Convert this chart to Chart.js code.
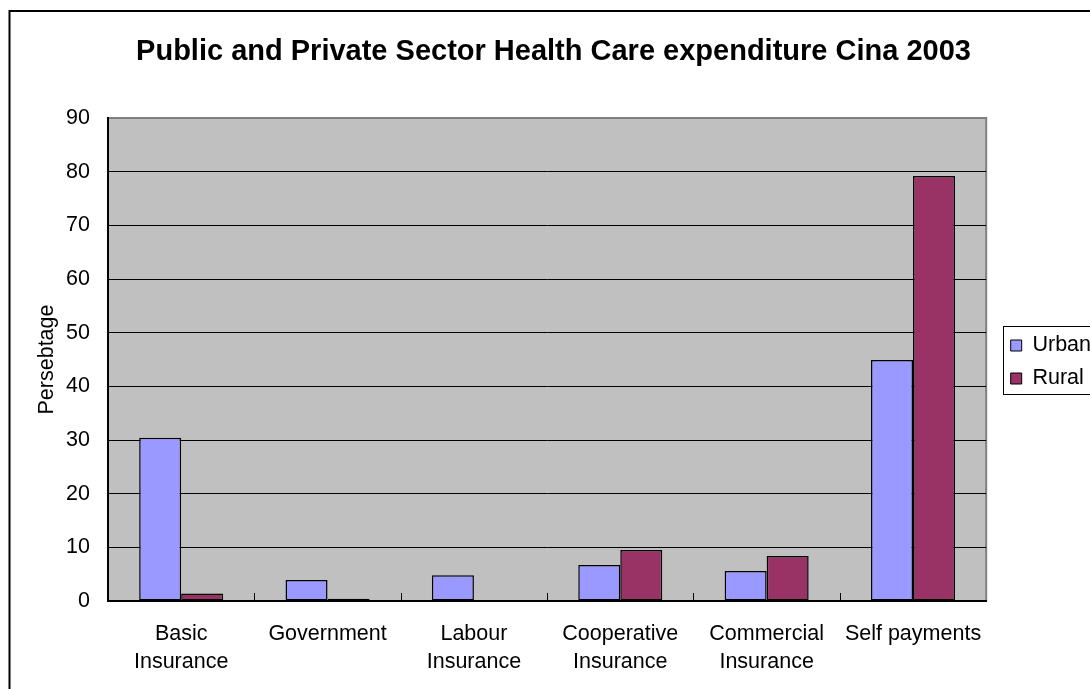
<!DOCTYPE html>
<html>
<head>
<meta charset="utf-8">
<title>Health Care expenditure</title>
<script src="https://cdn.jsdelivr.net/npm/chart.js@4.4.0/dist/chart.umd.min.js"></script>
<style>
  html, body { margin: 0; padding: 0; background: #fff; overflow: hidden; }
  #wrap { position: relative; width: 1090px; height: 689px; overflow: hidden; }
  #healthChart { position: absolute; left: 0; top: 0; }
</style>
</head>
<body>
<div id="wrap"><canvas id="healthChart" width="1110" height="700"></canvas></div>
<script>
const categories = [
    ['Basic', 'Insurance'],
    'Government',
    ['Labour', 'Insurance'],
    ['Cooperative', 'Insurance'],
    ['Commercial', 'Insurance'],
    'Self payments'
];
const urbanValues = [30.4, 3.9, 4.8, 6.7, 5.6, 44.9];
const ruralValues = [1.4, 0.4, 0, 9.5, 8.4, 79.2];
const yTicks = [0, 10, 20, 30, 40, 50, 60, 70, 80, 90];

const FONT = "'Liberation Sans', Arial, sans-serif";
Chart.defaults.font.family = FONT;
Chart.defaults.color = '#000';

// white page, outer frame and grey plot background
const frame = {
    id: 'frame',
    beforeDraw(chart) {
        const ctx = chart.ctx;
        const a = chart.chartArea;
        ctx.save();
        ctx.fillStyle = '#fff';
        ctx.fillRect(0, 0, chart.width, chart.height);
        ctx.strokeStyle = '#000';
        ctx.lineWidth = 2;
        ctx.strokeRect(9.5, 11, 1200, 800);
        ctx.fillStyle = '#c0c0c0';
        ctx.fillRect(a.left, a.top, a.right - a.left, a.bottom - a.top);
        ctx.strokeStyle = '#808080';
        ctx.lineWidth = 2;
        ctx.beginPath();
        ctx.moveTo(a.left, a.top);
        ctx.lineTo(a.right, a.top);
        ctx.lineTo(a.right, a.bottom);
        ctx.stroke();
        ctx.restore();
    },
    afterDatasetsDraw(chart) {
        // short tick marks between categories, pointing into the plot
        const ctx = chart.ctx;
        const x = chart.scales.x;
        const bottom = chart.chartArea.bottom;
        ctx.save();
        ctx.strokeStyle = '#000';
        ctx.lineWidth = 1;
        ctx.beginPath();
        for (let i = 1; i < categories.length; i++) {
            const px = Math.round((x.getPixelForValue(i - 1) + x.getPixelForValue(i)) / 2) + 0.5;
            ctx.moveTo(px, bottom);
            ctx.lineTo(px, bottom - 8);
        }
        ctx.stroke();
        ctx.restore();
    }
};

// move the legend off the plot edge and box it
const legendBox = {
    id: 'legendBox',
    afterLayout(chart) {
        const lg = chart.legend;
        const dx = chart.chartArea.right + 13 - lg.left;
        lg.left += dx;
        lg.right += dx;
        lg.top += 12;
        lg.bottom += 12;
    },
    afterDraw(chart) {
        const boxes = chart.legend.legendHitBoxes;
        if (!boxes || !boxes.length) return;
        const first = boxes[0];
        const last = boxes[boxes.length - 1];
        const ctx = chart.ctx;
        ctx.save();
        ctx.strokeStyle = '#000';
        ctx.lineWidth = 1;
        const left = Math.round(first.left - 8) + 0.5;
        const top = Math.round(first.top - 9) + 0.5;
        const bottom = Math.round(last.top + last.height + 5) + 0.5;
        ctx.strokeRect(left, top, 300, bottom - top);
        ctx.restore();
    }
};

new Chart(document.getElementById('healthChart'), {
    type: 'bar',
    data: {
        labels: categories,
        datasets: [{
            label: 'Urban',
            data: urbanValues,
            backgroundColor: '#9999ff',
            borderColor: '#000',
            borderWidth: 1.5,
            borderSkipped: false
        }, {
            label: 'Rural',
            data: ruralValues,
            backgroundColor: '#993366',
            borderColor: '#000',
            borderWidth: 1.5,
            borderSkipped: false
        }]
    },
    options: {
        responsive: false,
        animation: false,
        layout: { padding: { left: 19, top: 0, right: 22, bottom: 0 } },
        datasets: {
            bar: { categoryPercentage: 0.574, barPercentage: 1.0 }
        },
        plugins: {
            title: {
                display: true,
                text: 'Public and Private Sector Health Care expenditure Cina 2003',
                color: '#000',
                font: { size: 29, weight: 'bold', family: FONT, lineHeight: 1.2 },
                padding: { top: 34.6, bottom: 48.6 }
            },
            legend: {
                position: 'right',
                labels: {
                    boxWidth: 11,
                    boxHeight: 11,
                    padding: 11.5,
                    color: '#000',
                    font: { size: 21.5, family: FONT },
                    generateLabels(chart) {
                        return chart.data.datasets.map((ds, i) => ({
                            text: ds.label,
                            fillStyle: ds.backgroundColor,
                            strokeStyle: '#000',
                            lineWidth: 1,
                            datasetIndex: i,
                            fontColor: '#000'
                        }));
                    }
                }
            },
            tooltip: { enabled: false }
        },
        scales: {
            x: {
                grid: { display: false, drawTicks: false },
                border: { color: '#000', width: 2 },
                ticks: {
                    padding: 19,
                    maxRotation: 0,
                    autoSkip: false,
                    font: { size: 21.5, family: FONT, lineHeight: 1.29 }
                },
                afterFit(scale) { scale.height = 99; }
            },
            y: {
                min: 0,
                max: 90,
                afterBuildTicks(scale) {
                    scale.ticks = yTicks.map(v => ({ value: v }));
                },
                grid: {
                    drawTicks: false,
                    color: ctx => (ctx.tick && ctx.tick.value === 90 ? '#808080' : '#000'),
                    lineWidth: ctx => (ctx.tick && ctx.tick.value === 90 ? 2 : 1)
                },
                border: { color: '#000', width: 2 },
                ticks: {
                    padding: 18,
                    font: { size: 21.5, family: FONT }
                },
                title: {
                    display: true,
                    text: 'Persebtage',
                    color: '#000',
                    font: { size: 21.5, family: FONT, lineHeight: 1.2 },
                    padding: { top: 15, bottom: 0 }
                },
                afterFit(scale) { scale.width = 89; }
            }
        }
    },
    plugins: [frame, legendBox]
});
</script>
</body>
</html>
